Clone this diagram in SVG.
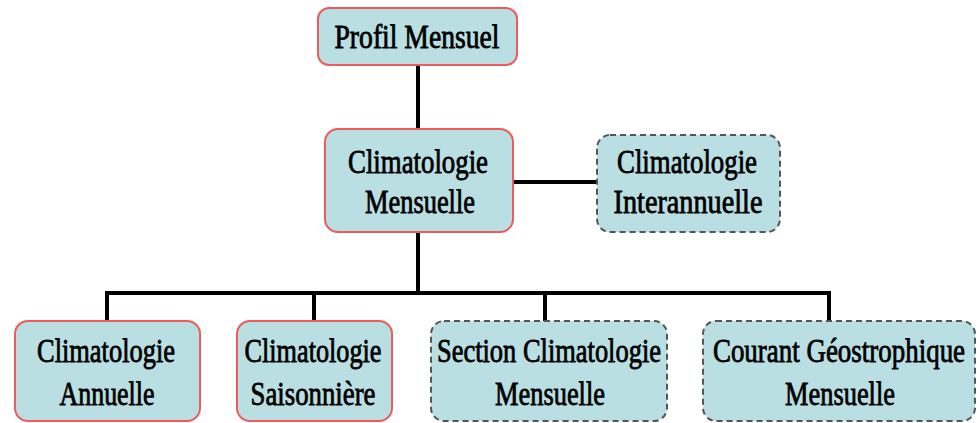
<svg xmlns="http://www.w3.org/2000/svg" width="980" height="423" viewBox="0 0 980 423">
<style>
.solid{fill:#b9dfe3;stroke:#f05a5a;stroke-width:2}
.dash{fill:#b9dfe3;stroke:#555;stroke-width:2;stroke-dasharray:6 4}
text{font-family:"Liberation Serif","DejaVu Serif",serif;font-size:33px;font-weight:normal;fill:#000;stroke:#000;stroke-width:0.8;text-anchor:middle}
.c{fill:none;stroke:#000;stroke-width:4}
</style>
<rect width="980" height="423" fill="#fff"/>
<g id="connectors">
<path class="c" d="M418 65V130"/>
<path class="c" d="M513 182H597"/>
<path class="c" d="M418 232V293"/>
<path class="c" d="M107 321V293H829V321"/>
<path class="c" d="M314 293V321"/>
<path class="c" d="M545 293V321"/>
</g>
<g id="profil">
<rect class="solid" x="318" y="8" width="199" height="57" rx="11"/>
<text x="417" y="48" textLength="165" lengthAdjust="spacingAndGlyphs">Profil Mensuel</text>
</g>
<g id="clim-mensuelle">
<rect class="solid" x="325" y="129" width="188" height="103" rx="13"/>
<text x="418" y="173" textLength="140" lengthAdjust="spacingAndGlyphs">Climatologie</text>
<text x="420" y="213" textLength="110" lengthAdjust="spacingAndGlyphs">Mensuelle</text>
</g>
<g id="clim-interannuelle">
<rect class="dash" x="597" y="135" width="183" height="97" rx="13"/>
<text x="687" y="173" textLength="140" lengthAdjust="spacingAndGlyphs">Climatologie</text>
<text x="688" y="213" textLength="149" lengthAdjust="spacingAndGlyphs">Interannuelle</text>
</g>
<g id="clim-annuelle">
<rect class="solid" x="15" y="321" width="185" height="100" rx="13"/>
<text x="106" y="362" textLength="138" lengthAdjust="spacingAndGlyphs">Climatologie</text>
<text x="107" y="405" textLength="95" lengthAdjust="spacingAndGlyphs">Annuelle</text>
</g>
<g id="clim-saisonniere">
<rect class="solid" x="237" y="321" width="155" height="100" rx="13"/>
<text x="313" y="362" textLength="137" lengthAdjust="spacingAndGlyphs">Climatologie</text>
<text x="313" y="405" textLength="125" lengthAdjust="spacingAndGlyphs">Saisonnière</text>
</g>
<g id="section">
<rect class="dash" x="431" y="321" width="236" height="100" rx="13"/>
<text x="549" y="362" textLength="224" lengthAdjust="spacingAndGlyphs">Section Climatologie</text>
<text x="550" y="405" textLength="110" lengthAdjust="spacingAndGlyphs">Mensuelle</text>
</g>
<g id="courant">
<rect class="dash" x="703" y="321" width="272" height="100" rx="13"/>
<text transform="translate(839 362) scale(0.816 1)" x="0" y="0" textLength="309" lengthAdjust="spacingAndGlyphs">Courant Géostrophique</text>
<text x="840" y="405" textLength="110" lengthAdjust="spacingAndGlyphs">Mensuelle</text>
</g>
</svg>
